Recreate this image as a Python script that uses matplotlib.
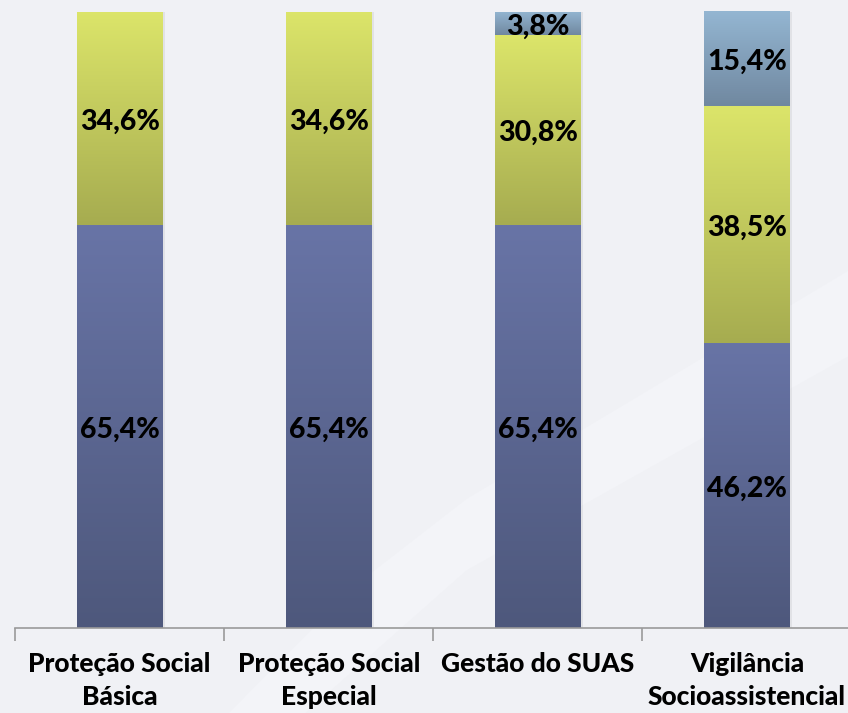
import matplotlib
matplotlib.use("Agg")
import matplotlib.pyplot as plt
import numpy as np
from matplotlib.colors import LinearSegmentedColormap
from matplotlib.patches import Polygon

categories = ["Proteção Social\nBásica", "Proteção Social\nEspecial",
              "Gestão do SUAS", "Vigilância\nSocioassistencial"]
serie_1 = [65.4, 65.4, 65.4, 46.2]
serie_2 = [34.6, 34.6, 30.8, 38.5]
serie_3 = [0.0, 0.0, 3.8, 15.4]

grad_colors = [("#6874a6", "#4e587c"),
               ("#dce56a", "#a6ac50"),
               ("#94b6d2", "#7088a0")]

bg = "#f0f1f5"
fig = plt.figure(figsize=(8.48, 7.13), dpi=100, facecolor=bg)

# background axes with a subtle swoosh
bax = fig.add_axes([0, 0, 1, 1], zorder=0)
bax.set_xlim(0, 1)
bax.set_ylim(0, 1)
bax.axis("off")
bax.add_patch(Polygon([(0.27, 0.0), (0.36, 0.0), (0.55, 0.20), (1.0, 0.50), (1.0, 0.62),
                       (0.55, 0.30), (0.42, 0.18)], closed=True,
                      facecolor="#f3f4f8", edgecolor="none"))

ax = fig.add_axes([15/848, 85/713, 836.5/848, 616/713], zorder=1)
ax.set_facecolor("none")

x = np.arange(len(categories))
width = 0.41
bottoms = np.zeros(len(categories))
series = [serie_1, serie_2, serie_3]
fam = ["Lato", "DejaVu Sans"]

grad = np.linspace(0, 1, 256).reshape(-1, 1)
for s, (ctop, cbot) in zip(series, grad_colors):
    vals = np.array(s)
    cmap = LinearSegmentedColormap.from_list("g", [cbot, ctop])
    bars = ax.bar(x, vals, width, bottom=bottoms, color=ctop, edgecolor="none", zorder=2)
    for b, v in zip(bars, vals):
        if v <= 0:
            continue
        bx, by, bw, bh = b.get_x(), b.get_y(), b.get_width(), b.get_height()
        ax.bar(bx + bw / 2 + 0.012, bh, bw, bottom=by, color="#000000", alpha=0.06,
               edgecolor="none", zorder=1)
        im = ax.imshow(grad, cmap=cmap, origin="lower", aspect="auto",
                       extent=[bx, bx + bw, by, by + bh], zorder=3)
        im.set_clip_path(b)
        ax.annotate(f"{v:.1f}%".replace(".", ","), (bx + bw / 2, by + bh / 2),
                    xytext=(0, -2), textcoords="offset points",
                    ha="center", va="center", fontsize=20.5, fontweight="black",
                    family=fam, color="black", zorder=5)
    bottoms = bottoms + vals

ax.set_xlim(-0.5, 3.5)
ax.set_ylim(0, 100)
ax.set_yticks([])
for sp in ["top", "right", "left"]:
    ax.spines[sp].set_visible(False)
ax.spines["bottom"].set_color("#9a9a9a")
ax.spines["bottom"].set_linewidth(1.2)
ax.spines["bottom"].set_zorder(6)

ax.set_xticks(x)
ax.set_xticklabels(categories, fontsize=19, fontweight="black",
                   family=fam, linespacing=1.45)
ax.tick_params(axis="x", which="major", length=0, pad=17)
ax.set_xticks(np.arange(-0.5, 3.6, 1.0), minor=True)
ax.tick_params(axis="x", which="minor", length=9, color="#9a9a9a", width=1.2)

fig.savefig("out.png", dpi=100, facecolor=bg)
